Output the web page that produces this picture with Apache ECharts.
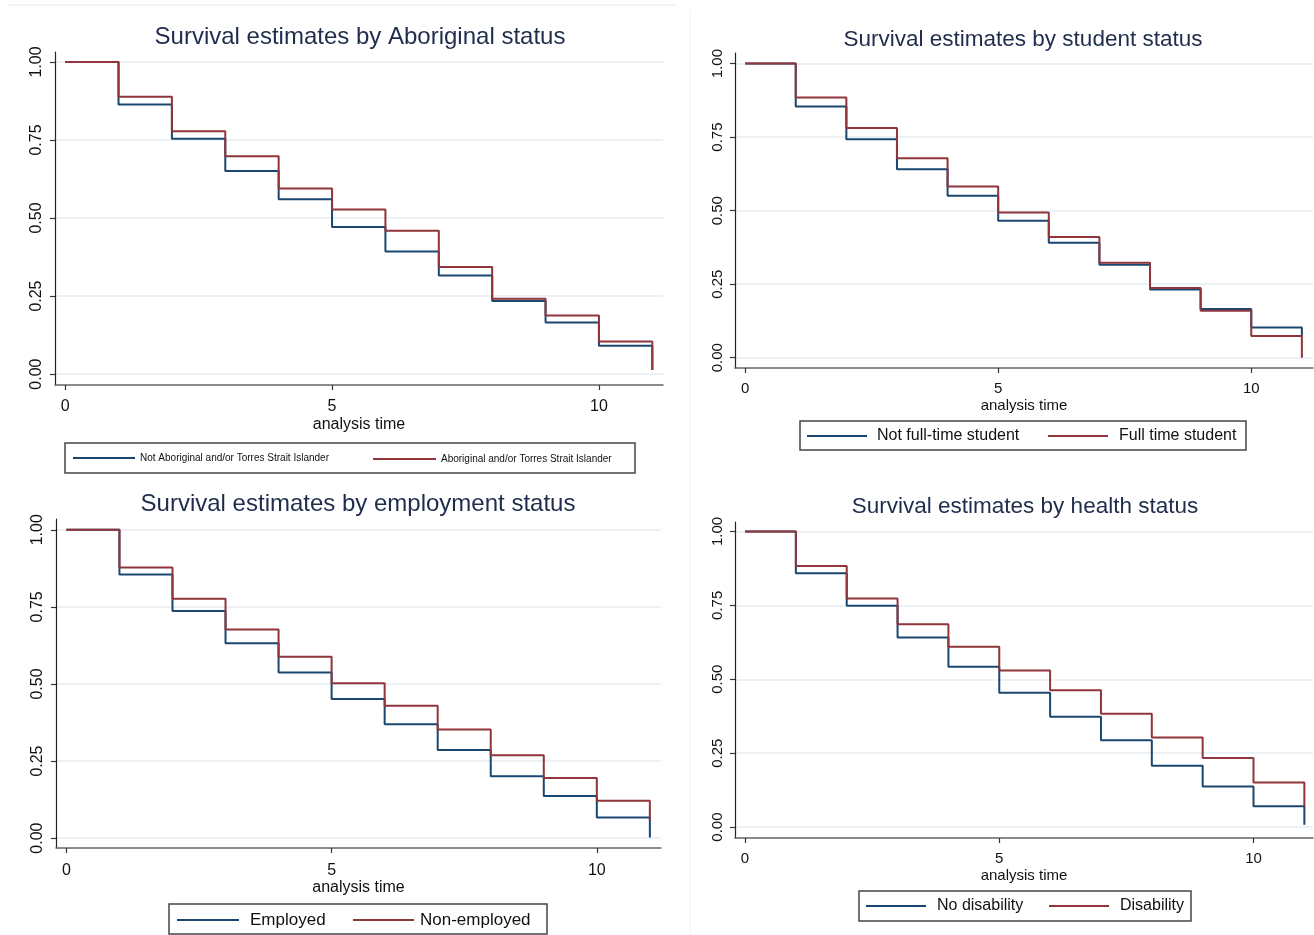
<!DOCTYPE html>
<html>
<head>
<meta charset="utf-8">
<script src="https://cdn.jsdelivr.net/npm/echarts@6/dist/echarts.min.js"></script>
<style>
html,body{margin:0;padding:0;background:#fff;}
#chart{width:1314px;height:935px;}
</style>
</head>
<body>
<div id="chart"></div>
<script>
// ---------------- DATA ----------------
const times = [0, 1, 2, 3, 4, 5, 6, 7, 8, 9, 10, 11];
const yTicks = [0, 0.25, 0.5, 0.75, 1];
const xTicks = [0, 5, 10];

const titles = [
  "Survival estimates by Aboriginal status",
  "Survival estimates by student status",
  "Survival estimates by employment status",
  "Survival estimates by health status"
];
const blueNames = ["Not Aboriginal and/or Torres Strait Islander", "Not full-time student", "Employed", "No disability"];
const redNames  = ["Aboriginal and/or Torres Strait Islander", "Full time student", "Non-employed", "Disability"];

const aboriginalNo  = [1, 0.864, 0.754, 0.651, 0.560, 0.471, 0.393, 0.316, 0.234, 0.165, 0.091, 0.013];
const aboriginalYes = [1, 0.889, 0.778, 0.698, 0.595, 0.527, 0.459, 0.343, 0.241, 0.188, 0.104, 0.013];
const studentNo     = [1, 0.854, 0.743, 0.641, 0.551, 0.466, 0.391, 0.316, 0.232, 0.166, 0.103, 0.074];
const studentYes    = [1, 0.885, 0.781, 0.678, 0.582, 0.494, 0.410, 0.323, 0.237, 0.160, 0.074, 0.000];
const employed      = [1, 0.855, 0.737, 0.632, 0.537, 0.451, 0.369, 0.286, 0.201, 0.137, 0.067, 0.002];
const nonEmployed   = [1, 0.878, 0.776, 0.677, 0.588, 0.502, 0.429, 0.352, 0.269, 0.195, 0.121, 0.058];
const noDisability  = [1, 0.859, 0.749, 0.641, 0.542, 0.454, 0.373, 0.294, 0.207, 0.137, 0.070, 0.008];
const disability    = [1, 0.883, 0.773, 0.686, 0.610, 0.530, 0.463, 0.383, 0.303, 0.234, 0.151, 0.069];

const blueData = [aboriginalNo, studentNo, employed, noDisability];
const redData  = [aboriginalYes, studentYes, nonEmployed, disability];

// ---------------- LAYOUT ----------------
const BLUE = '#1a476f', RED = '#90353b';
const FONT = 'Liberation Sans, Arial, sans-serif';
const layout = [
  { grid:{left:55,top:52,width:608,height:333}, x:[-0.19,11.2], y:[-0.035,1.032], fs:16, tfs:24, title:[360,37],
    lm:10, xm:14, ng:32, lfs:10,
    legA:{left:73,w:62,cy:458,pad:0}, legB:{left:373,w:63,cy:459,pad:0}, box:[65,443,570,30] },
  { grid:{left:735,top:53,width:578,height:315}, x:[-0.2,11.22], y:[-0.035,1.036], fs:15, tfs:22.5, title:[1023,40],
    lm:10, xm:13.5, ng:30.5, lfs:16,
    legA:{left:807,w:60,cy:436,pad:5}, legB:{left:1048,w:60,cy:436,pad:6}, box:[800,421,446,29] },
  { grid:{left:56,top:519,width:605,height:329}, x:[-0.196,11.21], y:[-0.032,1.035], fs:16, tfs:24, title:[358,504],
    lm:10, xm:15, ng:32, lfs:17,
    legA:{left:177,w:62,cy:920,pad:6}, legB:{left:353,w:61,cy:920,pad:1}, box:[169,904,378,30] },
  { grid:{left:735,top:522,width:578,height:316}, x:[-0.197,11.17], y:[-0.037,1.032], fs:15, tfs:22.5, title:[1025,507],
    lm:10, xm:13.5, ng:30, lfs:16,
    legA:{left:866,w:60,cy:906,pad:6}, legB:{left:1049,w:60,cy:906,pad:6}, box:[859,891,332,30] }
];

const grids = [], xAxes = [], yAxes = [], series = [], legends = [], graphics = [];

layout.forEach((L, i) => {
  grids.push(Object.assign({containLabel:false}, L.grid));
  xAxes.push({
    type:'value', gridIndex:i, min:L.x[0], max:L.x[1],
    name:'analysis time', nameLocation:'middle', nameGap:L.ng,
    nameTextStyle:{fontFamily:FONT, fontSize:L.fs, color:'#111'},
    axisLine:{show:true, onZero:false, lineStyle:{color:'#666', width:1.5}},
    axisTick:{show:true, length:5, customValues:xTicks, lineStyle:{color:'#333', width:1.2}},
    axisLabel:{show:true, customValues:xTicks, margin:L.xm, fontFamily:FONT, fontSize:L.fs, color:'#111',
      formatter:v => String(v)},
    splitLine:{show:false}
  });
  yAxes.push({
    type:'value', gridIndex:i, min:L.y[0], max:L.y[1],
    axisLine:{show:true, onZero:false, lineStyle:{color:'#222', width:1.2}},
    axisTick:{show:true, length:5, customValues:yTicks, lineStyle:{color:'#333', width:1.2}},
    axisLabel:{show:true, customValues:yTicks, rotate:90, margin:L.lm, fontFamily:FONT, fontSize:L.fs, color:'#111',
      formatter:v => Number(v).toFixed(2)},
    splitLine:{show:false}
  });
  // gridlines (drawn under the curves)
  series.push({
    type:'line', name:'grid'+i, xAxisIndex:i, yAxisIndex:i, z:0, silent:true,
    data:[[times[0], 1]], showSymbol:false, symbol:'none', lineStyle:{opacity:0},
    markLine:{silent:true, z:0, symbol:['none','none'], label:{show:false}, animation:false,
      lineStyle:{color:'#e4edf0', width:1.5, type:'solid'},
      data: yTicks.map(v => ({yAxis:v}))}
  });
  series.push({
    type:'line', name:blueNames[i], xAxisIndex:i, yAxisIndex:i, z:6, step:'end',
    data: times.map((t, k) => [t, blueData[i][k]]), showSymbol:false, symbol:'none',
    lineStyle:{color:BLUE, width:2}, itemStyle:{color:BLUE}
  });
  series.push({
    type:'line', name:redNames[i], xAxisIndex:i, yAxisIndex:i, z:7, step:'end',
    data: times.map((t, k) => [t, redData[i][k]]), showSymbol:false, symbol:'none',
    lineStyle:{color:RED, width:2}, itemStyle:{color:RED}
  });
  const lh = L.lfs + 4;
  [[L.legA, blueNames[i]], [L.legB, redNames[i]]].forEach(([g, nm]) => {
    legends.push({
      data:[nm], left:g.left, top:g.cy - lh/2, padding:0, selectedMode:false,
      icon:'rect', itemWidth:g.w, itemHeight:2,
      textStyle:{fontFamily:FONT, fontSize:L.lfs, color:'#111', lineHeight:lh, padding:[0,0,0,g.pad]}
    });
  });
  graphics.push({
    type:'rect', shape:{x:L.box[0], y:L.box[1], width:L.box[2], height:L.box[3]},
    style:{fill:'none', stroke:'#444', lineWidth:1.5}, silent:true
  });
  graphics.push({
    type:'text', x:L.title[0], y:L.title[1], silent:true,
    style:{text:titles[i], fontFamily:FONT, fontSize:L.tfs, fill:'#1f2c4c', align:'center', verticalAlign:'middle'}
  });
});

// faint frame lines of the pasted panels
graphics.push({type:'line', shape:{x1:8, y1:5, x2:677, y2:5}, style:{stroke:'#ececec', lineWidth:1}, silent:true});
graphics.push({type:'line', shape:{x1:690, y1:10, x2:690, y2:935}, style:{stroke:'#f2f2f2', lineWidth:1}, silent:true});

const chart = echarts.init(document.getElementById('chart'), null, {renderer:'canvas'});
chart.setOption({
  backgroundColor:'#ffffff',
  animation:false,
  grid:grids, xAxis:xAxes, yAxis:yAxes, series:series, legend:legends,
  graphic:{elements:graphics}
});
</script>
</body>
</html>
